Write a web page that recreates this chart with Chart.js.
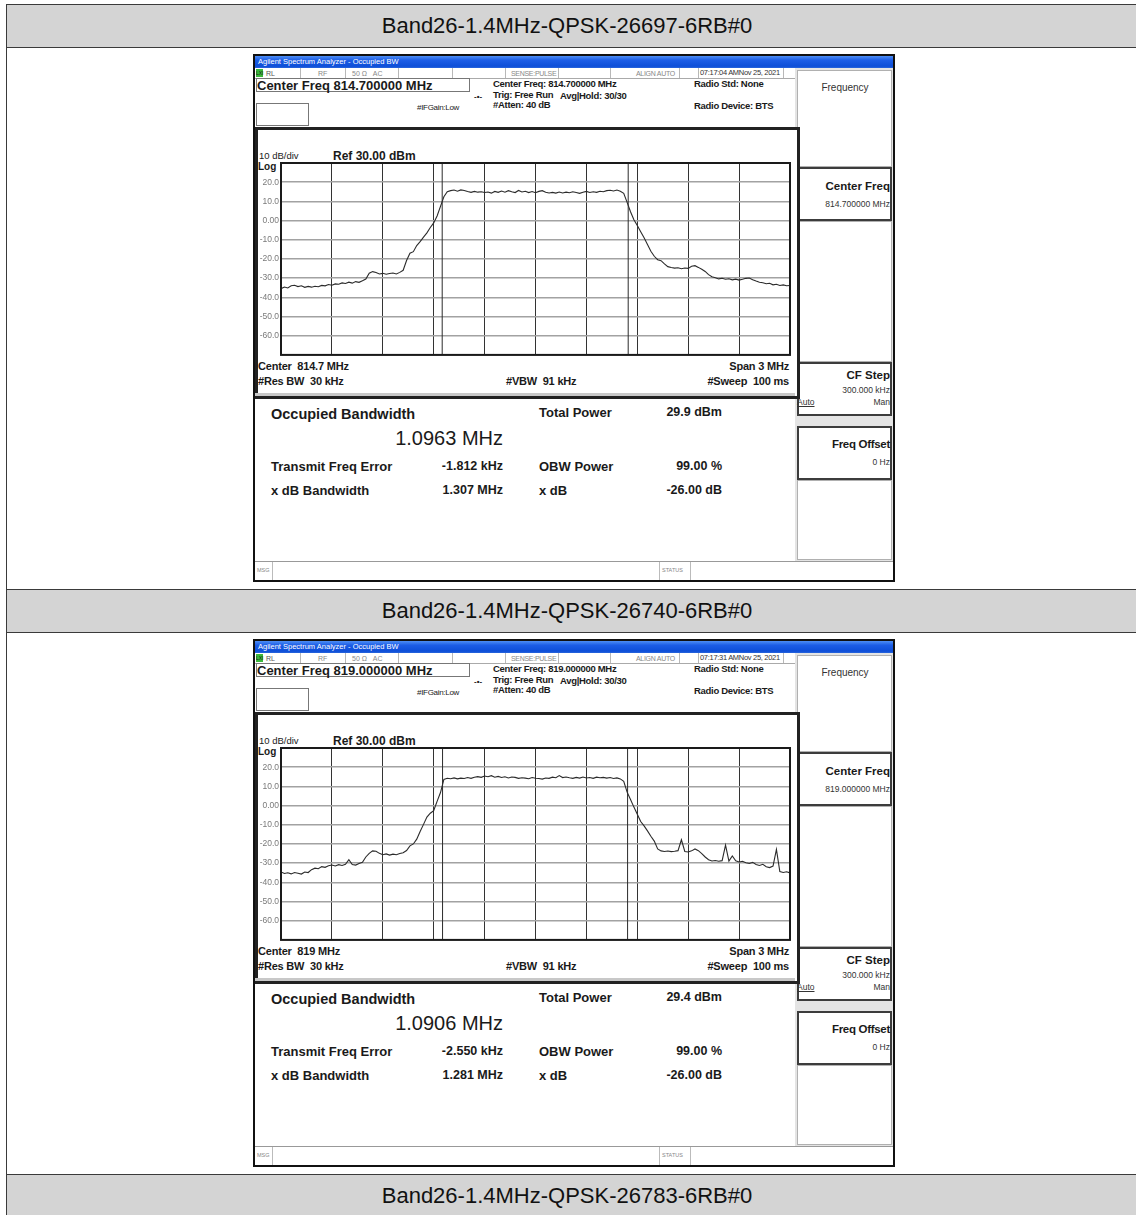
<!DOCTYPE html>
<html>
<head>
<meta charset="utf-8">
<title>Band26 Occupied BW</title>
<script src="https://cdn.jsdelivr.net/npm/chart.js@4.4.1/dist/chart.umd.min.js"></script>
<style>
  html,body{margin:0;padding:0;background:#fff;}
  body{position:relative;width:1136px;height:1215px;overflow:hidden;font-family:"Liberation Sans",Arial,sans-serif;color:#1a1a1a;}
  .tbl{position:absolute;left:6px;top:4px;width:1140px;height:1230px;border:1.5px solid #3a3a3a;box-sizing:border-box;}
  .hdr{position:absolute;left:6px;width:1140px;height:44px;background:#d4d4d4;border:1.5px solid #3a3a3a;box-sizing:border-box;text-align:center;font-size:22px;line-height:41px;color:#111;padding-right:18px;}
  .shot{position:absolute;left:253px;width:642px;height:528px;border:2px solid #111;box-sizing:border-box;background:#fff;overflow:hidden;}
  .shot div{position:absolute;white-space:pre;}
  .shot canvas{position:absolute;}
  .tb{background:linear-gradient(#4d8ef5,#1c5de6 35%,#0d4ed8 85%,#2a66dc);color:#fff;font-size:7.5px;line-height:12px;padding-left:3px;box-sizing:border-box;}
  .bx{border:1px solid #777;box-sizing:border-box;}
  .lite{border:1px solid #b0b0b0;box-sizing:border-box;}
  .dark{border:2px solid #3c3c3c;box-sizing:border-box;}
</style>
</head>
<body>
<div class="tbl"></div>
<script>
// ---- data ----
const bandLabels = ['Band26-1.4MHz-QPSK-26697-6RB#0', 'Band26-1.4MHz-QPSK-26740-6RB#0', 'Band26-1.4MHz-QPSK-26783-6RB#0'];
const centerFreqText = ['814.700000', '819.000000'];
const centerShortText = ['814.7', '819'];
const sweepTimes = ['07:17:04 AMNov 25, 2021', '07:17:31 AMNov 25, 2021'];
const obwMHz = [1.0963, 1.0906];
const totalPowerDbm = ['29.9', '29.4'];
const freqErrorKHz = [-1.812, -2.550];
const xdbBandwidthMHz = ['1.307', '1.281'];
const obwPowerPct = ['99.00', '99.00'];
const xdBValue = ['-26.00', '-26.00'];
const refLevelDbm = 30;
const dbPerDiv = 10;
const spanMHz = 3;

// sweep bins, offset from centre frequency (MHz)
const sweepOffsetMHz = [
  -1.50,-1.48,-1.46,-1.44,-1.42,-1.40,-1.38,-1.36,-1.34,-1.32,
  -1.30,-1.28,-1.26,-1.24,-1.22,-1.20,-1.18,-1.16,-1.14,-1.12,
  -1.10,-1.08,-1.06,-1.04,-1.02,-1.00,-0.98,-0.96,-0.94,-0.92,
  -0.90,-0.88,-0.86,-0.84,-0.82,-0.80,-0.78,-0.76,-0.74,-0.72,
  -0.70,-0.68,-0.66,-0.64,-0.62,-0.60,-0.58,-0.56,-0.54,-0.52,
  -0.50,-0.48,-0.46,-0.44,-0.42,-0.40,-0.38,-0.36,-0.34,-0.32,
  -0.30,-0.28,-0.26,-0.24,-0.22,-0.20,-0.18,-0.16,-0.14,-0.12,
  -0.10,-0.08,-0.06,-0.04,-0.02,0.00,0.02,0.04,0.06,0.08,
  0.10,0.12,0.14,0.16,0.18,0.20,0.22,0.24,0.26,0.28,
  0.30,0.32,0.34,0.36,0.38,0.40,0.42,0.44,0.46,0.48,
  0.50,0.52,0.54,0.56,0.58,0.60,0.62,0.64,0.66,0.68,
  0.70,0.72,0.74,0.76,0.78,0.80,0.82,0.84,0.86,0.88,
  0.90,0.92,0.94,0.96,0.98,1.00,1.02,1.04,1.06,1.08,
  1.10,1.12,1.14,1.16,1.18,1.20,1.22,1.24,1.26,1.28,
  1.30,1.32,1.34,1.36,1.38,1.40,1.42,1.44,1.46,1.48,
  1.50
];

// trace levels (dBm), channel 26697
const trace26697 = [
  -35.5,-34.6,-35.1,-34.0,-33.7,-34.4,-34.0,-34.8,-34.3,-34.7,
  -34.2,-34.5,-33.8,-34.0,-33.3,-33.7,-33.0,-33.2,-32.5,-32.8,
  -32.1,-32.6,-31.8,-32.2,-31.4,-30.5,-27.4,-26.6,-27.1,-27.8,
  -27.5,-28.0,-27.6,-27.3,-27.8,-27.0,-25.9,-20.8,-17.0,-16.2,
  -13.0,-11.0,-8.6,-6.4,-3.6,-1.2,2.4,7.4,12.4,15.0,
  15.6,15.9,15.3,16.0,15.7,15.1,14.7,15.2,14.8,15.0,
  14.6,14.9,14.3,15.2,14.7,15.4,14.8,15.6,15.0,14.6,
  15.7,14.9,15.3,14.6,15.1,14.5,15.2,15.6,14.8,14.4,
  14.7,14.3,14.9,14.4,14.8,14.5,15.0,14.6,14.2,14.8,
  15.2,14.6,15.0,14.7,15.3,15.0,15.6,15.8,15.4,15.9,
  15.3,14.2,9.5,4.6,0.4,-2.6,-5.8,-9.0,-12.5,-16.0,
  -18.6,-20.4,-20.9,-22.6,-24.0,-24.5,-24.8,-24.6,-25.1,-24.7,
  -24.9,-23.8,-23.5,-24.4,-25.4,-26.5,-28.2,-29.3,-29.8,-30.4,
  -30.1,-30.6,-30.3,-30.9,-30.5,-31.0,-30.6,-30.1,-29.9,-30.8,
  -31.5,-32.1,-32.4,-32.9,-32.7,-33.5,-33.2,-33.8,-33.5,-34.0,
  -33.8
];

// trace levels (dBm), channel 26740
const trace26740 = [
  -34.6,-35.4,-35.0,-35.6,-34.9,-35.3,-35.7,-34.6,-34.9,-33.4,
  -32.6,-32.9,-31.8,-32.2,-31.4,-31.0,-31.5,-30.8,-31.2,-30.6,
  -28.2,-30.7,-31.0,-30.2,-29.6,-26.8,-24.9,-23.6,-23.8,-24.9,
  -25.6,-25.2,-25.8,-25.3,-25.6,-25.0,-24.6,-23.4,-21.0,-20.0,
  -17.5,-13.5,-9.8,-6.0,-4.0,-2.6,2.2,6.8,13.6,14.2,
  14.0,14.4,13.9,14.3,14.1,14.6,14.2,14.8,15.1,14.7,
  15.4,15.0,15.6,14.8,15.2,14.6,15.0,14.4,14.9,14.7,
  14.2,14.5,14.3,14.0,14.6,14.2,14.1,13.8,14.4,14.2,
  14.8,14.5,15.6,14.6,14.9,14.5,14.2,14.7,14.3,14.9,
  14.4,14.6,14.2,14.8,14.5,14.7,14.3,14.6,14.1,14.4,
  13.9,12.6,7.0,3.2,-0.8,-4.5,-8.3,-10.6,-13.2,-16.0,
  -18.5,-22.6,-23.6,-23.9,-23.7,-24.0,-23.8,-23.5,-17.8,-23.9,
  -24.2,-23.6,-22.6,-23.5,-25.0,-26.8,-28.2,-28.9,-28.6,-29.0,
  -28.7,-20.6,-28.9,-26.3,-28.8,-29.4,-29.0,-29.8,-30.2,-29.6,
  -30.7,-31.2,-30.6,-31.9,-32.3,-31.5,-22.8,-34.4,-34.9,-34.5,
  -35.1
];
const traces = [trace26697, trace26740];

// ---- page helpers (coordinates given as in the first screenshot, page px) ----
const OX = 255, OY = 56, IR = 893;
function txt(p, x, y, s, size, o) {
  o = o || {};
  const d = document.createElement('div');
  d.textContent = s;
  d.style.fontSize = size + 'px';
  d.style.lineHeight = size + 'px';
  d.style.top = (y - OY - size / 2) + 'px';
  if (o.right) d.style.right = (IR - x) + 'px';
  else if (o.center) { d.style.left = (x - OX) + 'px'; d.style.transform = 'translateX(-50%)'; }
  else d.style.left = (x - OX) + 'px';
  if (o.bold) d.style.fontWeight = 'bold';
  d.style.color = o.color || '#1a1a1a';
  if (o.ul) d.style.textDecoration = 'underline';
  if (o.ls) d.style.letterSpacing = o.ls + 'px';
  p.appendChild(d);
  return d;
}
function box(p, x1, y1, x2, y2, cls, bg) {
  const d = document.createElement('div');
  d.className = cls || '';
  d.style.left = (x1 - OX) + 'px';
  d.style.top = (y1 - OY) + 'px';
  d.style.width = (x2 - x1) + 'px';
  d.style.height = (y2 - y1) + 'px';
  if (bg) d.style.background = bg;
  p.appendChild(d);
  return d;
}

function header(i, top) {
  const h = document.createElement('div');
  h.className = 'hdr';
  h.style.top = top + 'px';
  h.textContent = bandLabels[i];
  document.body.appendChild(h);
}

function buildShot(i, top) {
  const p = document.createElement('div');
  p.className = 'shot';
  p.style.top = top + 'px';
  document.body.appendChild(p);

  // title bar
  const tb = box(p, 255, 56, 893, 68, 'tb');
  tb.textContent = 'Agilent Spectrum Analyzer - Occupied BW';

  // status strip
  box(p, 255, 68, 795, 78, '', '#fff').style.borderBottom = '1px solid #aaa';
  const lxi = box(p, 256, 69, 263, 77, '', '#3bb83b');
  lxi.style.fontSize = '5px'; lxi.style.lineHeight = '8px'; lxi.textContent = 'LXI';
  [300, 345, 398, 452, 505, 558, 610, 679, 698, 783].forEach(x => box(p, x, 68, x + 1, 78, '', '#b8b8b8'));
  txt(p, 266, 73, 'RL', 7, {color: '#555'});
  txt(p, 318, 73, 'RF', 7, {color: '#888'});
  txt(p, 352, 73, '50 \u03A9   AC', 7, {color: '#888'});
  txt(p, 511, 73, 'SENSE:PULSE', 7, {color: '#888', ls: -0.3});
  txt(p, 636, 73, 'ALIGN AUTO', 7, {color: '#888', ls: -0.3});
  txt(p, 700, 73, sweepTimes[i], 7.5, {color: '#333', ls: -0.3});

  // centre freq entry box and empty box
  box(p, 256, 78, 470, 92, 'bx');
  txt(p, 257, 85, 'Center Freq ' + centerFreqText[i] + ' MHz', 13, {bold: true});
  box(p, 256, 103, 309, 126, 'bx');

  // settings text
  txt(p, 493, 84, 'Center Freq: ' + centerFreqText[i] + ' MHz', 9.5, {bold: true, ls: -0.3});
  txt(p, 493, 95, 'Trig: Free Run', 9.5, {bold: true, ls: -0.3});
  txt(p, 560, 96, 'Avg|Hold: 30/30', 9.5, {bold: true, ls: -0.3});
  txt(p, 493, 105, '#Atten: 40 dB', 9.5, {bold: true, ls: -0.3});
  txt(p, 417, 108, '#IFGain:Low', 8, {ls: -0.3});
  txt(p, 474, 97, '-\u2022-', 8, {bold: true});
  txt(p, 694, 84, 'Radio Std: None', 9.5, {bold: true, ls: -0.3});
  txt(p, 694, 106, 'Radio Device: BTS', 9.5, {bold: true, ls: -0.3});

  // right soft-key panel
  box(p, 795, 68, 893, 561, '', '#e4e4e4');
  box(p, 797, 70, 892, 167, 'lite', '#fff');
  box(p, 797, 167, 892, 221, 'dark', '#fff');
  box(p, 797, 221, 892, 362, 'lite', '#fff');
  box(p, 797, 362, 892, 416, 'dark', '#fff');
  box(p, 797, 426, 892, 480, 'dark', '#fff');
  box(p, 797, 480, 892, 560, 'lite', '#fff');
  txt(p, 845, 88, 'Frequency', 10, {center: true, color: '#333'});
  txt(p, 890, 187, 'Center Freq', 11.5, {right: true, bold: true});
  txt(p, 890, 204, centerFreqText[i] + ' MHz', 8.5, {right: true, color: '#333'});
  txt(p, 890, 376, 'CF Step', 11.5, {right: true, bold: true});
  txt(p, 890, 390, '300.000 kHz', 8.5, {right: true, color: '#333'});
  txt(p, 797, 402, 'Auto', 8.5, {ul: true, color: '#333'});
  txt(p, 890, 402, 'Man', 8.5, {right: true, color: '#333'});
  txt(p, 890, 445, 'Freq Offset', 11.5, {right: true, bold: true, ls: -0.3});
  txt(p, 890, 462, '0 Hz', 8.5, {right: true, color: '#333'});

  // graph frame
  box(p, 255, 127, 794, 393, '', '#fff').style.border = '3px solid #222';
  box(p, 255, 393, 795, 396, '', '#c8c8c8');
  txt(p, 259, 156, '10 dB/div', 9.5, {});
  txt(p, 333, 156, 'Ref ' + refLevelDbm.toFixed(2) + ' dBm', 12, {bold: true});
  txt(p, 258, 167, 'Log', 10, {bold: true});
  txt(p, 258, 366, 'Center  ' + centerShortText[i] + ' MHz', 11, {bold: true, ls: -0.2});
  txt(p, 258, 381, '#Res BW  30 kHz', 11, {bold: true, ls: -0.2});
  txt(p, 506, 381, '#VBW  91 kHz', 11, {bold: true, ls: -0.2});
  txt(p, 789, 366, 'Span ' + spanMHz + ' MHz', 11, {right: true, bold: true, ls: -0.2});
  txt(p, 789, 381, '#Sweep  100 ms', 11, {right: true, bold: true, ls: -0.2});

  // measurement results
  txt(p, 271, 414, 'Occupied Bandwidth', 14.5, {bold: true});
  txt(p, 503, 438, obwMHz[i].toFixed(4) + ' MHz', 20, {right: true});
  txt(p, 271, 466, 'Transmit Freq Error', 13, {bold: true});
  txt(p, 503, 466, freqErrorKHz[i].toFixed(3) + ' kHz', 12.5, {right: true, bold: true});
  txt(p, 271, 490, 'x dB Bandwidth', 13, {bold: true});
  txt(p, 503, 490, xdbBandwidthMHz[i] + ' MHz', 12.5, {right: true, bold: true});
  txt(p, 539, 412, 'Total Power', 13, {bold: true});
  txt(p, 722, 412, totalPowerDbm[i] + ' dBm', 12.5, {right: true, bold: true});
  txt(p, 539, 466, 'OBW Power', 13, {bold: true});
  txt(p, 722, 466, obwPowerPct[i] + ' %', 12.5, {right: true, bold: true});
  txt(p, 539, 490, 'x dB', 13, {bold: true});
  txt(p, 722, 490, xdBValue[i] + ' dB', 12.5, {right: true, bold: true});

  // bottom status bar
  box(p, 255, 561, 893, 580, '', '#fff').style.borderTop = '1px solid #999';
  box(p, 272, 562, 273, 580, '', '#bbb');
  box(p, 659, 562, 660, 580, '', '#bbb');
  box(p, 690, 562, 691, 580, '', '#bbb');
  txt(p, 257, 571, 'MSG', 5.5, {color: '#888'});
  txt(p, 662, 571, 'STATUS', 5.5, {color: '#888'});

  // chart canvas
  const c = document.createElement('canvas');
  c.width = 534; c.height = 212;
  c.style.left = (258 - OX) + 'px';
  c.style.top = (150 - OY) + 'px';
  p.appendChild(c);
  return c;
}

const frame = {
  id: 'frame',
  afterDraw(chart) {
    const a = chart.chartArea, ctx = chart.ctx;
    ctx.save();
    ctx.strokeStyle = '#1a1a1a';
    ctx.lineWidth = 2;
    ctx.strokeRect(a.left, a.top, a.right - a.left, a.bottom - a.top);
    ctx.restore();
  }
};

function drawTrace(canvas, i) {
  const pts = sweepOffsetMHz.map((f, k) => ({x: f, y: traces[i][k]}));
  const errMHz = freqErrorKHz[i] / 1000;
  const mL = errMHz - obwMHz[i] / 2, mR = errMHz + obwMHz[i] / 2;
  const yMin = refLevelDbm - dbPerDiv * 10;
  const marker = m => ({data: [{x: m, y: yMin}, {x: m, y: refLevelDbm}], borderColor: '#2a2a2a', borderWidth: 1, pointRadius: 0});
  new Chart(canvas, {
    type: 'line',
    data: {datasets: [
      marker(mL), marker(mR),
      {data: pts, borderColor: '#2b2b2b', borderWidth: 1.1, pointRadius: 0, tension: 0}
    ]},
    options: {
      responsive: false, animation: false, devicePixelRatio: 1, events: [],
      layout: {padding: {top: 13, right: 2, bottom: 6, left: 0}},
      plugins: {legend: {display: false}, tooltip: {enabled: false}},
      scales: {
        x: {type: 'linear', min: -spanMHz / 2, max: spanMHz / 2,
            ticks: {display: false, stepSize: spanMHz / 10},
            grid: {color: '#333', lineWidth: 1, drawTicks: false},
            border: {display: false},
            afterFit: s => { s.height = 0; }},
        y: {min: yMin, max: refLevelDbm,
            ticks: {stepSize: dbPerDiv, padding: 2, color: '#7a7a7a', font: {size: 8.5, family: 'Liberation Sans'},
                    callback: v => (v === refLevelDbm || v === yMin) ? '' : (v === 0 ? '0.00' : v.toFixed(1))},
            grid: {color: '#a2a2a2', lineWidth: 1.6, drawTicks: false},
            border: {display: false},
            afterFit: s => { s.width = 23; }}
      }
    },
    plugins: [frame]
  });
}

header(0, 4);
drawTrace(buildShot(0, 54), 0);
header(1, 589);
drawTrace(buildShot(1, 639), 1);
header(2, 1174);
</script>
</body>
</html>
